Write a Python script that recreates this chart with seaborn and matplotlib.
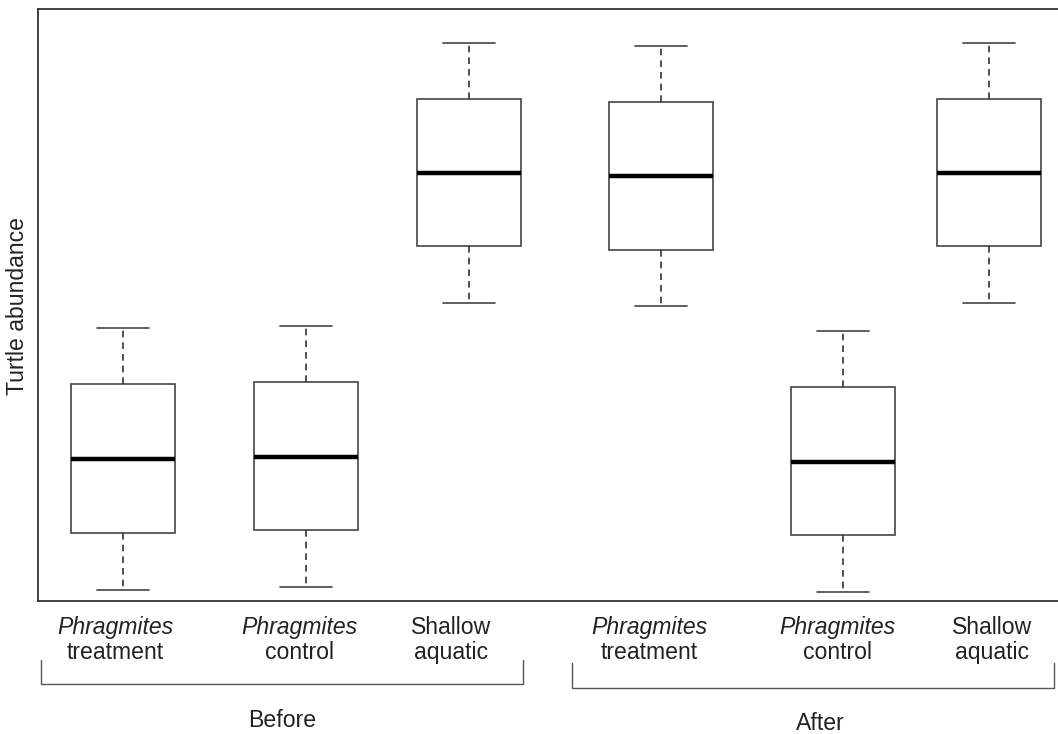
import numpy as np
import pandas as pd
import matplotlib
matplotlib.use("Agg")
import matplotlib.pyplot as plt
from matplotlib.lines import Line2D
import seaborn as sns

# ---- data (five-number summaries, arbitrary units) ----
groups = ["Before", "Before", "Before", "After", "After", "After"]
habitat_line1 = ["Phragmites", "Phragmites", "Shallow", "Phragmites", "Phragmites", "Shallow"]
habitat_line2 = ["treatment", "control", "aquatic", "treatment", "control", "aquatic"]
bp_treat = [1.1, 6.8, 14.2, 21.7, 27.3]
bp_ctrl = [1.4, 7.1, 14.4, 21.9, 27.5]
bs_aqua = [29.8, 35.5, 42.8, 50.2, 55.8]
ap_treat = [29.5, 35.1, 42.5, 49.9, 55.5]
ap_ctrl = [0.9, 6.6, 13.9, 21.4, 27.0]
as_aqua = [29.8, 35.5, 42.8, 50.2, 55.8]
series = [bp_treat, bp_ctrl, bs_aqua, ap_treat, ap_ctrl, as_aqua]
y_label = "Turtle abundance"

# ---- layout (positions of boxes on the x axis) ----
x_pos = [0.85, 2.68, 4.31, 6.23, 8.05, 9.51]

rows = []
for p, vals in zip(x_pos, series):
    for v in vals:
        rows.append({"pos": p, "value": v})
df = pd.DataFrame(rows)

sns.set_style("white")
plt.rcParams["font.family"] = ["Liberation Sans", "DejaVu Sans"]

W, H = 1058, 734
fig = plt.figure(figsize=(W / 100, H / 100), dpi=100)
ax = fig.add_axes([38 / W, (H - 601) / H, (W - 38) / W, (601 - 9) / H])

edge = "#444444"
sns.boxplot(
    data=df, x="pos", y="value", native_scale=True, width=0.712,
    whis=np.inf, color="white", linecolor=edge, linewidth=1.2,
    medianprops=dict(color="black", linewidth=3.2),
    whiskerprops=dict(linestyle=(0, (4, 3)), color="#333333", linewidth=1.2),
    capprops=dict(color=edge, linewidth=1.2),
    boxprops=dict(facecolor="white", edgecolor=edge, linewidth=1.2),
    showfliers=False, ax=ax,
)

ax.set_xlim(0, (W - 38) / 100)
ax.set_ylim(0, 59.2)
ax.set_xticks([])
ax.set_yticks([])
ax.set_xlabel("")
ax.set_ylabel("")
for s in ["left", "bottom", "top"]:
    ax.spines[s].set_color("#333333")
    ax.spines[s].set_linewidth(1.3)
ax.spines["right"].set_visible(False)

# ---- texts ----
def fx(px):
    return px / W

def fy(py):
    return 1 - py / H

label_x = [115, 299, 451, 649, 837, 992]
fs = 16.6
for lx, l1, l2 in zip(label_x, habitat_line1, habitat_line2):
    style = "italic" if l1 == "Phragmites" else "normal"
    fig.text(fx(lx), fy(634), l1, ha="center", va="baseline", fontsize=fs,
             style=style, color="#222222")
    fig.text(fx(lx), fy(659), l2, ha="center", va="baseline", fontsize=fs,
             color="#222222")

fig.text(fx(282), fy(727), "Before", ha="center", va="baseline", fontsize=fs, color="#222222")
fig.text(fx(820), fy(730), "After", ha="center", va="baseline", fontsize=fs, color="#222222")
fig.text(fx(18), fy(306), y_label, rotation=90, ha="center", va="center",
         fontsize=fs, color="#222222")

# ---- brackets ----
def bracket(x0, x1, ytop, ybot):
    xs = [fx(x0), fx(x0), fx(x1), fx(x1)]
    ys = [fy(ytop), fy(ybot), fy(ybot), fy(ytop)]
    fig.add_artist(Line2D(xs, ys, transform=fig.transFigure, color="#555555",
                          linewidth=1.0, solid_joinstyle="round"))

bracket(41, 523, 660, 684)
bracket(572, 1054, 663, 688)

fig.savefig("out.png", dpi=100, facecolor="white")
